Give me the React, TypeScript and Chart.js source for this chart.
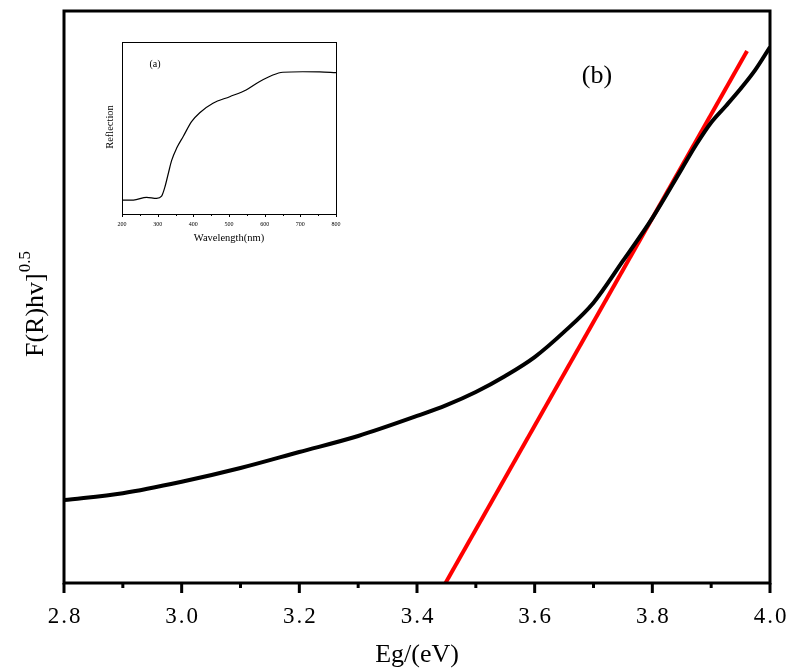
import React, { useEffect, useRef } from "react";
import { Chart, registerables } from "chart.js";
Chart.register(...registerables);

// Main plot (b): Tauc plot
const egValues = [2.8, 2.9, 3.0, 3.1, 3.2, 3.3, 3.4, 3.45, 3.5, 3.55, 3.6, 3.65, 3.7, 3.75, 3.8, 3.85, 3.875, 3.9, 3.925, 3.95, 3.975, 4.0];
const fValues = [0.145, 0.157, 0.177, 0.201, 0.229, 0.257, 0.292, 0.311, 0.334, 0.362, 0.395, 0.439, 0.49, 0.563, 0.638, 0.724, 0.767, 0.805, 0.834, 0.864, 0.897, 0.937];
const fitX = [3.4485, 3.961];
const fitY = [0, 0.93];
const xMajorTicks = [2.8, 3.0, 3.2, 3.4, 3.6, 3.8, 4.0];
const xMinorTicks = [2.9, 3.1, 3.3, 3.5, 3.7, 3.9];

// Inset (a): reflection spectrum
const wavelength = [200, 232, 269, 297, 311, 320, 330, 339, 353, 372, 395, 418, 455, 502, 548, 585, 623, 651, 707, 754, 800];
const reflection = [0.081, 0.081, 0.097, 0.091, 0.104, 0.155, 0.237, 0.31, 0.382, 0.452, 0.537, 0.589, 0.644, 0.682, 0.721, 0.769, 0.808, 0.824, 0.827, 0.826, 0.822];
const insetMajorTicks = [200, 300, 400, 500, 600, 700, 800];
const insetMinorTicks = [250, 350, 450, 550, 650, 750];

const mainPlugin = {
  id: "mainDecor",
  afterDraw(chart: any) {
    const { ctx, chartArea } = chart;
    const { left, right, top, bottom } = chartArea;
    const x = chart.scales.x;
    ctx.save();
    ctx.strokeStyle = "#000";
    ctx.fillStyle = "#000";
    ctx.lineWidth = 3;
    ctx.strokeRect(left, top, right - left, bottom - top);
    ctx.lineWidth = 3;
    xMajorTicks.forEach((v) => {
      const px = x.getPixelForValue(v);
      ctx.beginPath();
      ctx.moveTo(px, bottom);
      ctx.lineTo(px, bottom + 10);
      ctx.stroke();
    });
    xMinorTicks.forEach((v) => {
      const px = x.getPixelForValue(v);
      ctx.beginPath();
      ctx.moveTo(px, bottom);
      ctx.lineTo(px, bottom + 5);
      ctx.stroke();
    });
    ctx.font = "23px 'Liberation Serif'";
    ctx.textAlign = "center";
    ctx.textBaseline = "middle";
    try { (ctx as any).letterSpacing = "2px"; } catch (e) {}
    xMajorTicks.forEach((v) => {
      const px = x.getPixelForValue(v);
      ctx.fillText(v.toFixed(1), px + 1, 617);
    });
    try { (ctx as any).letterSpacing = "0px"; } catch (e) {}
    ctx.font = "26px 'Liberation Serif'";
    ctx.fillText("Eg/(eV)", (left + right) / 2, 655);
    ctx.fillText("(b)", 597, 76);
    // y title
    ctx.save();
    ctx.translate(43, 357);
    ctx.rotate(-Math.PI / 2);
    ctx.textAlign = "left";
    ctx.textBaseline = "alphabetic";
    ctx.font = "26px 'Liberation Serif'";
    const main = "F(R)hv]";
    ctx.fillText(main, 0, 0);
    const w = ctx.measureText(main).width;
    ctx.font = "17px 'Liberation Serif'";
    ctx.fillText("0.5", w + 1, -13);
    ctx.restore();
    ctx.restore();
  },
};

const insetPlugin = {
  id: "insetDecor",
  afterDraw(chart: any) {
    const { ctx, chartArea } = chart;
    const { left, right, top, bottom } = chartArea;
    const x = chart.scales.x;
    ctx.save();
    ctx.strokeStyle = "#000";
    ctx.fillStyle = "#000";
    ctx.lineWidth = 1;
    ctx.strokeRect(left + 0.5, top + 0.5, right - left, bottom - top);
    insetMajorTicks.forEach((v) => {
      const px = Math.round(x.getPixelForValue(v)) + 0.5;
      ctx.beginPath();
      ctx.moveTo(px, bottom);
      ctx.lineTo(px, bottom + 3);
      ctx.stroke();
    });
    insetMinorTicks.forEach((v) => {
      const px = Math.round(x.getPixelForValue(v)) + 0.5;
      ctx.beginPath();
      ctx.moveTo(px, bottom);
      ctx.lineTo(px, bottom + 2);
      ctx.stroke();
    });
    ctx.font = "6px 'Liberation Serif'";
    ctx.textAlign = "center";
    ctx.textBaseline = "middle";
    insetMajorTicks.forEach((v) => {
      const px = x.getPixelForValue(v);
      ctx.fillText(String(v), px, bottom + 10);
    });
    ctx.font = "10.5px 'Liberation Serif'";
    ctx.fillText("Wavelength(nm)", (left + right) / 2, bottom + 24);
    ctx.font = "10px 'Liberation Serif'";
    ctx.fillText("(a)", left + 33, top + 22);
    ctx.save();
    ctx.translate(left - 12, (top + bottom) / 2 - 1);
    ctx.rotate(-Math.PI / 2);
    ctx.font = "10.5px 'Liberation Serif'";
    ctx.fillText("Reflection", 0, 0);
    ctx.restore();
    ctx.restore();
  },
};

export default function App() {
  const mainRef = useRef<HTMLCanvasElement | null>(null);
  const insetRef = useRef<HTMLCanvasElement | null>(null);

  useEffect(() => {
    const mainChart = new Chart(mainRef.current as HTMLCanvasElement, {
      type: "line",
      data: {
        datasets: [
          {
            data: egValues.map((v, i) => ({ x: v, y: fValues[i] })),
            borderColor: "#000",
            borderWidth: 4,
            pointRadius: 0,
            cubicInterpolationMode: "monotone",
          },
          {
            data: fitX.map((v, i) => ({ x: v, y: fitY[i] })),
            borderColor: "#ff0000",
            borderWidth: 4,
            pointRadius: 0,
          },
        ],
      },
      options: {
        responsive: false,
        animation: false,
        devicePixelRatio: 1,
        layout: { padding: { left: 64, top: 11, right: 24, bottom: 89 } },
        plugins: { legend: { display: false }, tooltip: { enabled: false } },
        scales: {
          x: { type: "linear", min: 2.8, max: 4.0, display: false },
          y: { type: "linear", min: 0, max: 1, display: false },
        },
      },
      plugins: [mainPlugin],
    } as any);

    const insetChart = new Chart(insetRef.current as HTMLCanvasElement, {
      type: "line",
      data: {
        datasets: [
          {
            data: wavelength.map((v, i) => ({ x: v, y: reflection[i] })),
            borderColor: "#000",
            borderWidth: 1.2,
            pointRadius: 0,
            cubicInterpolationMode: "monotone",
          },
        ],
      },
      options: {
        responsive: false,
        animation: false,
        devicePixelRatio: 1,
        layout: { padding: { left: 27, top: 10, right: 9, bottom: 40 } },
        plugins: { legend: { display: false }, tooltip: { enabled: false } },
        scales: {
          x: { type: "linear", min: 200, max: 800, display: false },
          y: { type: "linear", min: 0, max: 1, display: false },
        },
      },
      plugins: [insetPlugin],
    } as any);

    return () => {
      mainChart.destroy();
      insetChart.destroy();
    };
  }, []);

  return (
    <div style={{ position: "absolute", left: 0, top: 0, width: 794, height: 672, background: "#fff" }}>
      <canvas ref={mainRef} width={794} height={672} style={{ position: "absolute", left: 0, top: 0 }} />
      <canvas ref={insetRef} width={250} height={222} style={{ position: "absolute", left: 95, top: 32 }} />
    </div>
  );
}
